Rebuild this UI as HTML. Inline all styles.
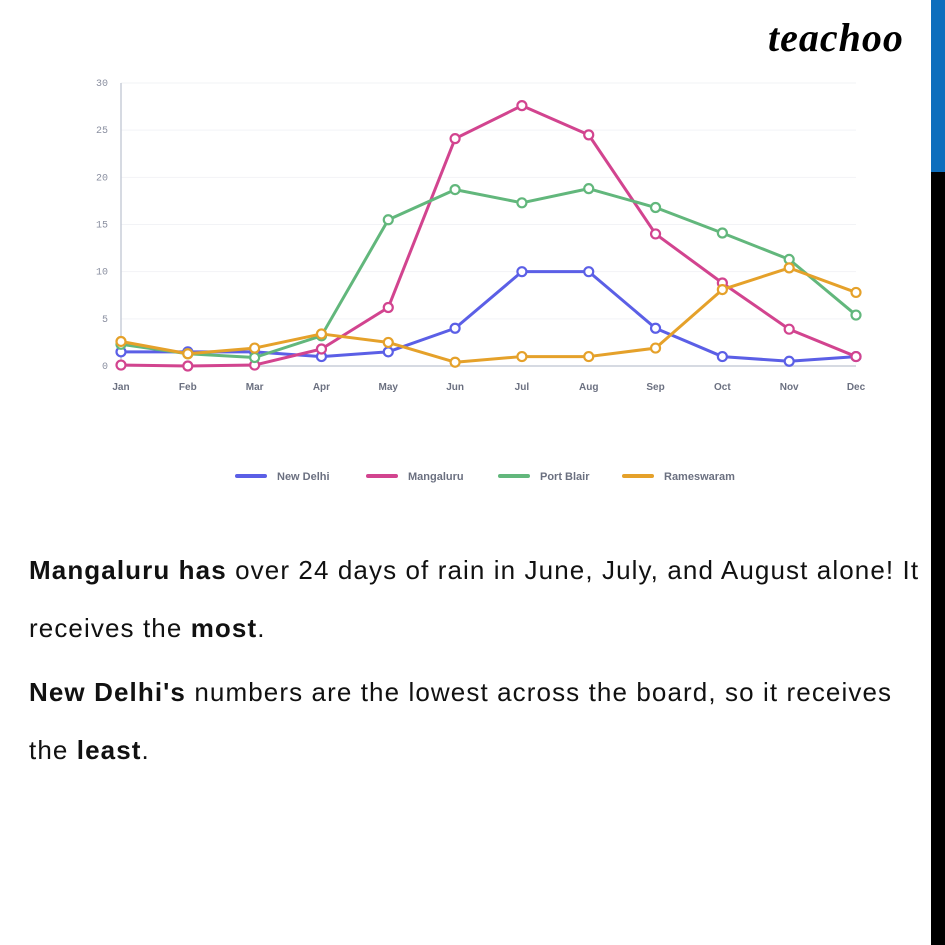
<!DOCTYPE html>
<html><head><meta charset="utf-8"><style>
body{margin:0;width:945px;height:945px;background:#fff;position:relative;overflow:hidden;font-family:"Liberation Sans",sans-serif}
#bar1{position:absolute;left:931px;top:0;width:14px;height:172px;background:#0d6ebd}
#bar2{position:absolute;left:931px;top:172px;width:14px;height:773px;background:#000}
#logo{position:absolute;left:768px;top:14px;font:italic bold 40px "Liberation Serif",serif;color:#000;letter-spacing:1px}
.p{position:absolute;left:29px;font-size:26px;color:#111;white-space:nowrap;letter-spacing:1.1px}
</style></head><body>
<div id="bar1"></div>
<div id="bar2"></div>
<div id="logo">teachoo</div>
<svg id="chart" width="945" height="520" style="position:absolute;left:0;top:0"></svg>
<div class="p" style="top:555px"><b>Mangaluru has</b> over 24 days of rain in June, July, and August alone! It</div>
<div class="p" style="top:613px">receives the <b>most</b>.</div>
<div class="p" style="top:677px"><b>New Delhi's</b> numbers are the lowest across the board, so it receives</div>
<div class="p" style="top:735px">the <b>least</b>.</div>
<script>
const months=["Jan","Feb","Mar","Apr","May","Jun","Jul","Aug","Sep","Oct","Nov","Dec"];
const yTicks=[0,5,10,15,20,25,30];
const seriesNames=["New Delhi","Mangaluru","Port Blair","Rameswaram"];
const newDelhi=[1.5,1.5,1.5,1,1.5,4,10,10,4,1,0.5,1];
const mangaluru=[0.1,0,0.1,1.8,6.2,24.1,27.6,24.5,14,8.8,3.9,1];
const portBlair=[2.3,1.3,0.9,3.2,15.5,18.7,17.3,18.8,16.8,14.1,11.3,5.4];
const rameswaram=[2.6,1.3,1.9,3.4,2.5,0.4,1,1,1.9,8.1,10.4,7.8];
const colors=["#5b5fe6","#d2448f","#62b77c","#e5a12a"];
const svg=document.getElementById('chart');const NS="http://www.w3.org/2000/svg";
const X=i=>121+i*(856-121)/11, Y=v=>366-v*(366-83)/30;
function mk(t,a){const e=document.createElementNS(NS,t);for(const k in a)e.setAttribute(k,a[k]);svg.appendChild(e);return e;}
yTicks.forEach(t=>{const g=mk('line',{x1:121,x2:856,y1:Y(t),y2:Y(t),stroke:t==0?'#c8cdd8':'#f2f3f6','stroke-width':t==0?1.5:1});

const l=mk('text',{x:108,y:Y(t)+3,'text-anchor':'end','font-size':10,fill:'#8a8fa0','font-family':'Liberation Mono,monospace'});l.textContent=t;
});
const ax=mk('line',{x1:121,x2:121,y1:83,y2:366,stroke:'#c8cdd8','stroke-width':1.5});

months.forEach((m,i)=>{const l=mk('text',{x:X(i),y:390,'text-anchor':'middle','font-size':10,fill:'#6b7080','font-weight':'bold'});l.textContent=m;
});
[newDelhi,mangaluru,portBlair,rameswaram].forEach((d,s)=>{
const p=mk('polyline',{points:d.map((v,i)=>X(i)+','+Y(v)).join(' '),fill:'none',stroke:colors[s],'stroke-width':3,'stroke-linejoin':'round'});

d.forEach((v,i)=>{const c=mk('circle',{cx:X(i),cy:Y(v),r:4.5,fill:'#fff',stroke:colors[s],'stroke-width':2.2});
});});
const lx=[237,368,500,624];
seriesNames.forEach((n,s)=>{const l=mk('line',{x1:lx[s],x2:lx[s]+28,y1:476,y2:476,stroke:colors[s],'stroke-width':4,'stroke-linecap':'round'});

const t=mk('text',{x:lx[s]+40,y:480,'font-size':11,fill:'#6b7080','font-weight':'bold'});t.textContent=n;
});
</script>
</body></html>
